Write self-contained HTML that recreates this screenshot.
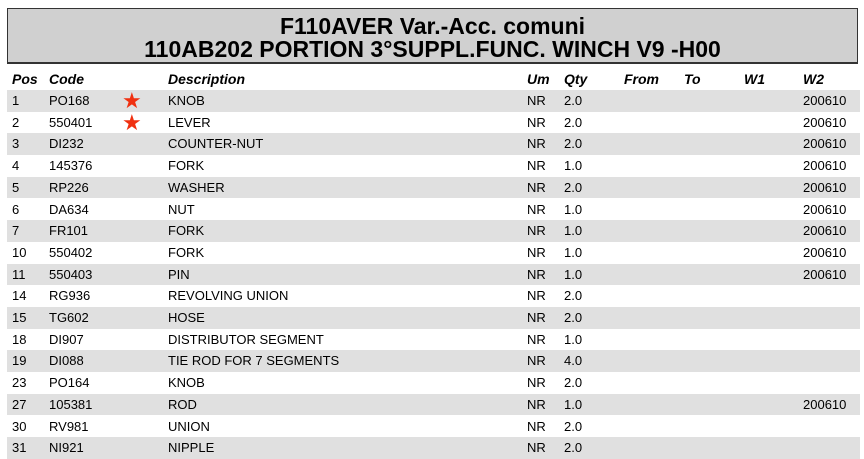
<!DOCTYPE html><html><head><style>
body{margin:0;width:864px;height:459px;background:#fff;font-family:"Liberation Sans",sans-serif;position:relative;overflow:hidden}
.t{position:absolute;left:7px;top:8px;width:851px;height:56px;background:#d0d0d0;border:1px solid #333;border-bottom-width:2px;text-align:center;font-weight:bold;font-size:23px;line-height:23px;padding-top:6px;box-sizing:border-box}
.r{position:absolute;left:7px;width:853px;height:21.7px;font-size:13px;line-height:22px}
.g{background:#e0e0e0}
.r span{position:absolute;white-space:nowrap}
.h{font-weight:bold;font-style:italic;font-size:14px}
.s{color:#f03010;font-size:22px;line-height:21px}
</style></head><body>
<div class="t">F110AVER Var.-Acc. comuni<br>110AB202 PORTION 3°SUPPL.FUNC. WINCH V9 -H00</div>
<div class="r h" style="top:68px"><span style="left:5px">Pos</span><span style="left:42px">Code</span><span style="left:161px">Description</span><span style="left:520px">Um</span><span style="left:557px">Qty</span><span style="left:617px">From</span><span style="left:677px">To</span><span style="left:737px">W1</span><span style="left:796px">W2</span></div>
<div id="rows"></div>
<script>
var d=[["1","PO168",1,"KNOB","2.0",1],["2","550401",1,"LEVER","2.0",1],["3","DI232",0,"COUNTER-NUT","2.0",1],["4","145376",0,"FORK","1.0",1],["5","RP226",0,"WASHER","2.0",1],["6","DA634",0,"NUT","1.0",1],["7","FR101",0,"FORK","1.0",1],["10","550402",0,"FORK","1.0",1],["11","550403",0,"PIN","1.0",1],["14","RG936",0,"REVOLVING UNION","2.0",0],["15","TG602",0,"HOSE","2.0",0],["18","DI907",0,"DISTRIBUTOR SEGMENT","1.0",0],["19","DI088",0,"TIE ROD FOR 7 SEGMENTS","4.0",0],["23","PO164",0,"KNOB","2.0",0],["27","105381",0,"ROD","1.0",1],["30","RV981",0,"UNION","2.0",0],["31","NI921",0,"NIPPLE","2.0",0]];
var h="";d.forEach(function(x,i){h+='<div class="r'+(i%2==0?' g':'')+'" style="top:'+(90+i*21.7)+'px"><span style="left:5px">'+x[0]+'</span><span style="left:42px">'+x[1]+'</span>'+(x[2]?'<span class="s" style="left:115px">★</span>':'')+'<span style="left:161px">'+x[3]+'</span><span style="left:520px">NR</span><span style="left:557px">'+x[4]+'</span>'+(x[5]?'<span style="left:796px">200610</span>':'')+'</div>'});
document.getElementById("rows").innerHTML=h;
</script>
</body></html>
